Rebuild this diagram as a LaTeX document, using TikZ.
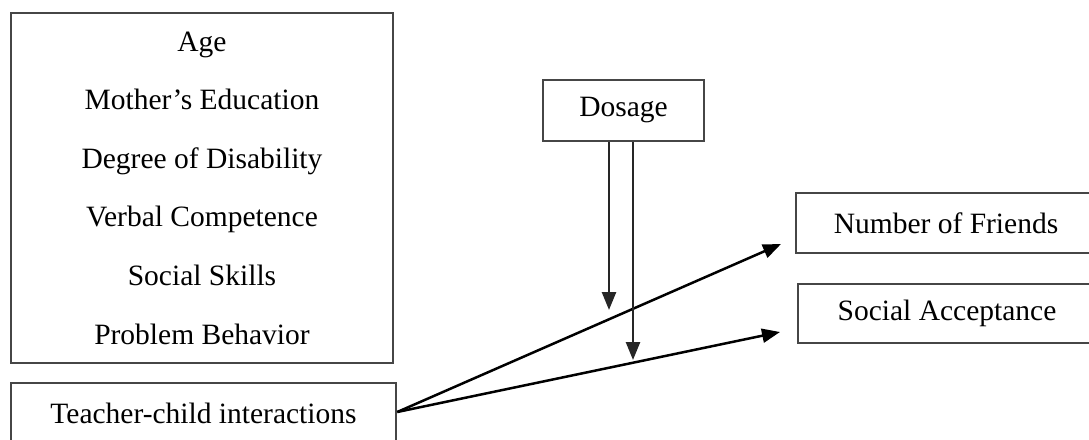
\documentclass[tikz,border=0pt]{standalone}
\usepackage{fontspec}
\setmainfont{Liberation Serif}
\usetikzlibrary{arrows.meta}
\definecolor{boxgray}{RGB}{70, 70, 70}

\begin{document}
\begin{tikzpicture}[x=1pt, y=-1pt,
		box/.style={draw=boxgray, line width=2.5pt, inner sep=0pt, align=center,
			font=\fontsize{29.5}{58.6}\selectfont},
		arr/.style={line width=2.5pt, -{Triangle[length=18pt, width=14pt]}}]
		\useasboundingbox (0,0) rectangle (1089,439);
		\node[box, minimum width=382pt, minimum height=350pt] (covars) at (202,188)
			{Age\\Mother's Education\\Degree of Disability\\Verbal Competence\\Social Skills\\Problem Behavior};
		\node[box, minimum width=385pt, minimum height=60pt] (teacher) at (203.5,413) {Teacher-child interactions};
		\node[box, minimum width=161pt, minimum height=61pt] (dosage) at (623.5,110.5) {Dosage};
		\node[box, minimum width=300pt, minimum height=60pt] (friends) at (946,223) {Number of Friends};
		\node[box, minimum width=298pt, minimum height=59pt] (accept) at (947,313.5) {Social Acceptance};
		\coordinate (friendsend) at (781,244);
		\coordinate (acceptend) at (780,332);
		\coordinate (doseendA) at (609,310);
		\coordinate (doseendB) at (633,360);
		\draw[arr] ([yshift=1pt]teacher.east) -- (friendsend);
		\draw[arr] ([yshift=1pt]teacher.east) -- (acceptend);
		\draw[arr, black!85] (dosage.south -| doseendA) -- (doseendA);
		\draw[arr, black!85] (dosage.south -| doseendB) -- (doseendB);
	\end{tikzpicture}
\end{document}
